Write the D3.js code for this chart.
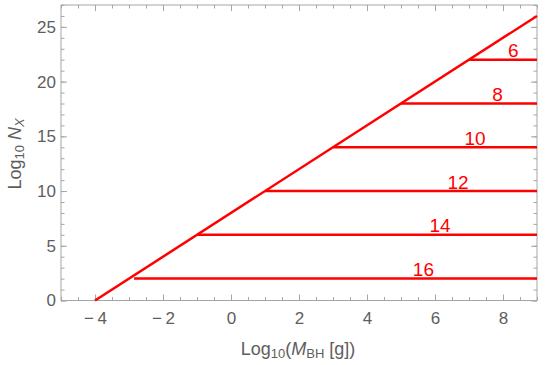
<!DOCTYPE html>
<html>
<head>
<meta charset="utf-8">
<script src="https://cdn.jsdelivr.net/npm/d3@7"></script>
<style>
  body { margin: 0; background: #fff; }
  svg { display: block; font-family: "Liberation Sans", Arial, sans-serif; }
</style>
</head>
<body>
<svg width="545" height="365"></svg>
<script>
// data
var xDomain = [-5, 9],
    yDomain = [0, 27];
var xTicks = [-4, -2, 0, 2, 4, 6, 8],
    yTicks = [0, 5, 10, 15, 20, 25];

// diagonal boundary line
var diagX = [-4, 9],
    diagY = [0, 26];

// horizontal lines, one per label
var levels = [22, 18, 14, 10, 6, 2],
    starts = [7, 5, 3, 1, -1, -2.85],
    labels = ["6", "8", "10", "12", "14", "16"],
    labelX = [8.3, 7.84, 7.18, 6.68, 6.15, 5.66];

var svg = d3.select("svg"),
    margin = {top: 5, right: 8, bottom: 64.5, left: 61},
    width = +svg.attr("width") - margin.left - margin.right,
    height = +svg.attr("height") - margin.top - margin.bottom,
    g = svg.append("g").attr("transform", "translate(" + margin.left + "," + margin.top + ")");

var x = d3.scaleLinear().domain(xDomain).range([0, width]),
    y = d3.scaleLinear().domain(yDomain).range([height, 0]);

var frameColor = "#a6a6a6",
    textColor = "#5e5e5e";

var xMinor = d3.range(xDomain[0], xDomain[1] + 0.01, 0.5),
    yMinor = d3.range(yDomain[0], yDomain[1] + 0.01, 1);

// mathematica puts a little gap after the minus sign
var fmt = d => d < 0 ? "\u2212\u2009" + (-d) : "" + d;

function styleAxis(sel) {
  sel.select(".domain").remove();
  sel.selectAll("line").attr("stroke", frameColor);
  sel.selectAll("text").attr("fill", textColor).style("font-size", "17px");
}

// minor ticks on all four sides
g.append("g").attr("transform", "translate(0," + height + ")")
  .call(d3.axisBottom(x).tickValues(xMinor).tickSize(-3.5).tickFormat("")).call(styleAxis);
g.append("g")
  .call(d3.axisTop(x).tickValues(xMinor).tickSize(-3.5).tickFormat("")).call(styleAxis);
g.append("g")
  .call(d3.axisLeft(y).tickValues(yMinor).tickSize(-3.5).tickFormat("")).call(styleAxis);
g.append("g").attr("transform", "translate(" + width + ",0)")
  .call(d3.axisRight(y).tickValues(yMinor).tickSize(-3.5).tickFormat("")).call(styleAxis);

// major ticks
g.append("g").attr("transform", "translate(0," + height + ")")
  .call(d3.axisBottom(x).tickValues(xTicks).tickSize(-6).tickPadding(11).tickFormat(fmt)).call(styleAxis);
g.append("g")
  .call(d3.axisTop(x).tickValues(xTicks).tickSize(-6).tickFormat("")).call(styleAxis);
g.append("g")
  .call(d3.axisLeft(y).tickValues(yTicks).tickSize(-6).tickPadding(5)).call(styleAxis);
g.append("g").attr("transform", "translate(" + width + ",0)")
  .call(d3.axisRight(y).tickValues(yTicks).tickSize(-6).tickFormat("")).call(styleAxis);

// frame
g.append("rect")
  .attr("width", width)
  .attr("height", height)
  .attr("fill", "none")
  .attr("stroke", frameColor)
  .attr("stroke-width", 1);

// lines
var plot = g.append("g");

plot.append("path")
  .datum(diagX.map(function(d, i) { return [d, diagY[i]]; }))
  .attr("d", d3.line().x(d => x(d[0])).y(d => y(d[1])))
  .attr("fill", "none")
  .attr("stroke", "#ff0000")
  .attr("stroke-width", 2.5);

plot.selectAll(".level")
  .data(levels)
  .join("line")
  .attr("class", "level")
  .attr("x1", (d, i) => x(starts[i]))
  .attr("x2", x(xDomain[1]))
  .attr("y1", d => y(d))
  .attr("y2", d => y(d))
  .attr("stroke", "#ff0000")
  .attr("stroke-width", 2.5);

plot.selectAll(".lbl")
  .data(levels)
  .join("text")
  .attr("class", "lbl")
  .attr("x", (d, i) => x(labelX[i]))
  .attr("y", d => y(d))
  .attr("dy", -2.5)
  .attr("text-anchor", "middle")
  .attr("fill", "#ff0000")
  .style("font-size", "19px")
  .text((d, i) => labels[i]);

// x axis title
var xt = svg.append("text")
  .attr("x", 298)
  .attr("y", 355)
  .attr("text-anchor", "middle")
  .attr("fill", textColor)
  .style("font-size", "18px");
xt.append("tspan").text("Log");
xt.append("tspan").attr("dy", 3).style("font-size", "13px").text("10");
xt.append("tspan").attr("dy", -3).text("(");
xt.append("tspan").style("font-style", "italic").text("M");
xt.append("tspan").attr("dy", 3).style("font-size", "13px").text("BH");
xt.append("tspan").attr("dy", -3).text(" [g])");

// y axis title
var yt = svg.append("text")
  .attr("transform", "translate(21,154) rotate(-90)")
  .attr("text-anchor", "middle")
  .attr("fill", textColor)
  .style("font-size", "18px");
yt.append("tspan").text("Log");
yt.append("tspan").attr("dy", 3).style("font-size", "13px").text("10");
yt.append("tspan").attr("dy", -3).text(" ");
yt.append("tspan").style("font-style", "italic").text("N");
yt.append("tspan").attr("dy", 3).style("font-size", "13px").style("font-style", "italic").text("X");
</script>
</body>
</html>
